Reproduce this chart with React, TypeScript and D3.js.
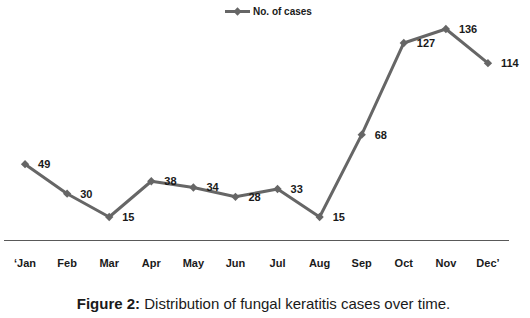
import React from "react";
import * as d3 from "d3";

const months = ["‘Jan", "Feb", "Mar", "Apr", "May", "Jun", "Jul", "Aug", "Sep", "Oct", "Nov", "Dec’"];
const cases = [49, 30, 15, 38, 34, 28, 33, 15, 68, 127, 136, 114];
const seriesName = "No. of cases";
const caption = { bold: "Figure 2:", rest: " Distribution of fungal keratitis cases over time." };

const W = 530;
const H = 318;
const left = 4;
const right = 509;
const baseY = 240.3;
const color = "#666666";
const font = "Arial, 'Liberation Sans', Helvetica, sans-serif";

export default function App() {
  const x = d3.scaleBand<string>().domain(months).range([left, right]);
  const y = d3.scaleLinear().domain([0, 150]).range([baseY, baseY - 150 * 1.5537]);
  const line = d3
    .line<number>()
    .x((_, i) => (x(months[i]) as number) + x.bandwidth() / 2)
    .y((d) => y(d));
  const diamond = d3.symbol().type(d3.symbolDiamond2).size(44)() as string;

  return (
    <svg
      width={W}
      height={H}
      style={{ position: "absolute", left: 0, top: 0, background: "#fff" }}
      fontFamily={font}
    >
      <line x1={left} x2={right} y1={Math.round(baseY) + 0.5} y2={Math.round(baseY) + 0.5} stroke="#595959" strokeWidth={1} />
      {months.map((m) => (
        <text
          key={m}
          x={(x(m) as number) + x.bandwidth() / 2}
          y={267}
          textAnchor="middle"
          fontSize={11}
          fontWeight="bold"
          fill="#1a1a1a"
        >
          {m}
        </text>
      ))}
      <path d={line(cases) as string} fill="none" stroke={color} strokeWidth={3} strokeLinejoin="round" />
      {cases.map((v, i) => {
        const cx = (x(months[i]) as number) + x.bandwidth() / 2;
        return (
          <g key={i}>
            <path d={diamond} transform={`translate(${cx},${y(v)})`} fill={color} />
            <text x={cx + 13} y={y(v) + 4} fontSize={11} fontWeight="bold" fill="#1a1a1a">
              {v}
            </text>
          </g>
        );
      })}
      <g>
        <line x1={225} x2={250} y1={11.5} y2={11.5} stroke={color} strokeWidth={3} />
        <path d={diamond} transform="translate(237.5,11.5)" fill={color} />
        <text x={253} y={15} fontSize={10} fontWeight="bold" fill="#1a1a1a">
          {seriesName}
        </text>
      </g>
      <text x={263.5} y={309} textAnchor="middle" fontSize={15} fill="#1a1a1a">
        <tspan fontWeight="bold">{caption.bold}</tspan>
        <tspan>{caption.rest}</tspan>
      </text>
    </svg>
  );
}
